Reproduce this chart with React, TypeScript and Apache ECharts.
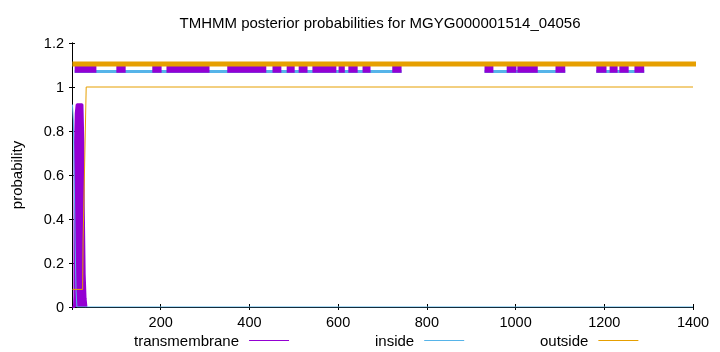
import React, { useEffect, useRef } from "react";
import * as echarts from "echarts";

const TITLE = "TMHMM posterior probabilities for MGYG000001514_04056";
const Y_NAME = "probability";
const FONT = "'Liberation Sans', Arial, Helvetica, sans-serif";

const PURPLE = "#9400D3";
const BLUE = "#56B4E9";
const ORANGE = "#E69F00";

// posterior probability curves: [position, probability]
const transmembrane: [number, number][] = [
  [1, 0], [5, 0], [6, 0.05], [6.5, 0.68], [9, 0.88], [11, 0.92],
  [23, 0.92], [25, 0.75], [26, 0.45], [28, 0.15], [30, 0.04], [32, 0],
];
const inside: [number, number][] = [
  [1, 0.92], [3, 0.85], [5, 0.6], [7, 0.3], [9, 0.08], [11, 0], [1400, 0],
];
const outside: [number, number][] = [
  [1, 0.08], [24, 0.08], [25, 0.3], [32, 1.0], [1400, 1.0],
];

// predicted topology band at top: [start, end]
const topTM: [number, number][] = [
  [6, 55], [100, 121], [181, 202], [213, 310], [350, 438], [452, 472],
  [484, 502], [511, 531], [542, 596], [601, 615], [623, 644], [655, 673],
  [722, 743], [930, 950], [980, 1002], [1004, 1050], [1090, 1112],
  [1182, 1205], [1212, 1230], [1234, 1255], [1268, 1290],
];
const topInside: [number, number][] = [[6, 743], [930, 1112], [1182, 1290]];
const topOutside: [number, number][] = [[1, 1460]];

const TOP_OUT_Y = 1.105;
const TOP_TM_Y = 1.083;
const TOP_IN_Y = 1.07;

const X_MIN = 0;
const X_MAX = 1400;
const X_STEP = 200;
const Y_MIN = 0;
const Y_MAX = 1.2;
const Y_STEP = 0.2;

function segs(list: [number, number][], y: number) {
  const out: any[] = [];
  list.forEach(([a, b]) => {
    out.push([a, y], [b, y], [b, "-"]);
  });
  return out;
}

export default function App() {
  const ref = useRef<HTMLDivElement>(null);
  useEffect(() => {
    if (!ref.current) return;
    const chart = echarts.init(ref.current, null, { renderer: "svg" });
    const tick = { show: true, inside: true, length: 3, lineStyle: { color: "#000" } };
    const line = { show: true, lineStyle: { color: "#000", width: 1 } };
    const lineSeries = (name: string, data: any[], color: string, width: number, extra: any = {}) => ({
      name,
      type: "line",
      data,
      showSymbol: false,
      symbol: "none",
      connectNulls: false,
      lineStyle: { color, width, cap: "butt" },
      itemStyle: { color },
      ...extra,
    });
    chart.setOption({
      animation: false,
      grid: { left: 72, right: 27, top: 43, bottom: 45 },
      xAxis: [
        {
          type: "value", min: X_MIN, max: X_MAX, interval: X_STEP,
          axisLine: line, axisTick: tick, splitLine: { show: false },
          axisLabel: {
            fontFamily: FONT, fontSize: 14.5, color: "#000", margin: 7,
            formatter: (v: number) => (v === 0 ? "" : String(v)),
          },
        },
        {
          type: "value", position: "top", min: X_MIN, max: X_MAX, interval: X_STEP,
          axisLine: line, axisTick: tick, splitLine: { show: false }, axisLabel: { show: false },
        },
      ],
      yAxis: [
        {
          type: "value", min: Y_MIN, max: Y_MAX, interval: Y_STEP,
          axisLine: line, axisTick: tick, splitLine: { show: false },
          axisLabel: { fontFamily: FONT, fontSize: 14.5, color: "#000", margin: 8 },
        },
        {
          type: "value", position: "right", min: Y_MIN, max: Y_MAX, interval: Y_STEP,
          axisLine: line, axisTick: tick, splitLine: { show: false }, axisLabel: { show: false },
        },
      ],
      legend: [
        { name: "transmembrane", left: 129 },
        { name: "inside", left: 370 },
        { name: "outside", left: 535 },
      ].map((l) => ({
        data: [l.name],
        left: l.left,
        top: 328,
        align: "right",
        icon: "rect",
        itemWidth: 40,
        itemHeight: 1,
        textStyle: { fontFamily: FONT, fontSize: 15, color: "#000", padding: [0, 5, 0, 0] },
      })),
      series: [
        lineSeries("transmembrane", transmembrane, PURPLE, 2.5, {
          areaStyle: { color: PURPLE, opacity: 1 },
        }),
        lineSeries("inside", inside, BLUE, 1),
        lineSeries("outside", outside, ORANGE, 1),
        lineSeries("topInside", segs(topInside, TOP_IN_Y), BLUE, 3),
        lineSeries("topTM", segs(topTM, TOP_TM_Y), PURPLE, 8),
        lineSeries("topOutside", segs(topOutside, TOP_OUT_Y), ORANGE, 5, { clip: false }),
      ],
      graphic: [
        {
          type: "text", x: 380, y: 22,
          style: {
            text: TITLE, fontFamily: FONT, fontSize: 15, fill: "#000",
            textAlign: "center", textVerticalAlign: "middle",
          },
        },
        {
          type: "text", x: 16, y: 175, rotation: Math.PI / 2,
          style: {
            text: Y_NAME, fontFamily: FONT, fontSize: 15, fill: "#000",
            textAlign: "center", textVerticalAlign: "middle",
          },
        },
      ],
    });
    return () => chart.dispose();
  }, []);
  return <div ref={ref} style={{ width: 720, height: 352, position: "fixed", left: 0, top: 0 }} />;
}
